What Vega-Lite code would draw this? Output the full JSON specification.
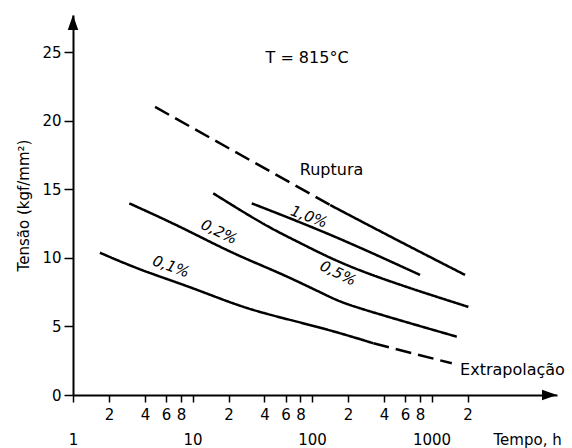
{
  "$schema": "https://vega.github.io/schema/vega-lite/v6.json",
  "width": 484,
  "height": 380,
  "autosize": {"type": "none"},
  "padding": {"left": 73, "top": 15, "right": 15, "bottom": 53},
  "background": "white",
  "config": {
    "view": {"stroke": null},
    "font": "DejaVu Sans",
    "axis": {
      "grid": false,
      "domainColor": "black",
      "domainWidth": 2,
      "tickColor": "black",
      "tickWidth": 1.5,
      "labelColor": "black",
      "titleColor": "black",
      "labelFont": "DejaVu Sans",
      "titleFont": "DejaVu Sans",
      "labelFontSize": 15,
      "titleFontSize": 15,
      "titleFontWeight": "normal"
    }
  },
  "layer": [
    {
      "data": {
        "values": [
          {"curva": "Ruptura", "trecho": "ruptura-a", "estilo": "tracejado", "tempo": 4.86, "tensao": 21.0},
          {"curva": "Ruptura", "trecho": "ruptura-a", "estilo": "tracejado", "tempo": 141.5, "tensao": 13.85},
          {"curva": "Ruptura", "trecho": "ruptura-b", "estilo": "contínuo", "tempo": 141.5, "tensao": 13.85},
          {"curva": "Ruptura", "trecho": "ruptura-b", "estilo": "contínuo", "tempo": 511, "tensao": 11.3},
          {"curva": "Ruptura", "trecho": "ruptura-b", "estilo": "contínuo", "tempo": 1906, "tensao": 8.75},
          {"curva": "1,0%", "trecho": "1,0%", "estilo": "contínuo", "tempo": 31.3, "tensao": 13.97},
          {"curva": "1,0%", "trecho": "1,0%", "estilo": "contínuo", "tempo": 150, "tensao": 11.66},
          {"curva": "1,0%", "trecho": "1,0%", "estilo": "contínuo", "tempo": 801, "tensao": 8.75},
          {"curva": "0,5%", "trecho": "0,5%", "estilo": "contínuo", "tempo": 14.9, "tensao": 14.7},
          {"curva": "0,5%", "trecho": "0,5%", "estilo": "contínuo", "tempo": 41.8, "tensao": 12.27},
          {"curva": "0,5%", "trecho": "0,5%", "estilo": "contínuo", "tempo": 79.4, "tensao": 11.1},
          {"curva": "0,5%", "trecho": "0,5%", "estilo": "contínuo", "tempo": 220, "tensao": 9.11},
          {"curva": "0,5%", "trecho": "0,5%", "estilo": "contínuo", "tempo": 2032, "tensao": 6.42},
          {"curva": "0,2%", "trecho": "0,2%", "estilo": "contínuo", "tempo": 2.96, "tensao": 13.97},
          {"curva": "0,2%", "trecho": "0,2%", "estilo": "contínuo", "tempo": 6.91, "tensao": 12.51},
          {"curva": "0,2%", "trecho": "0,2%", "estilo": "contínuo", "tempo": 11.6, "tensao": 11.52},
          {"curva": "0,2%", "trecho": "0,2%", "estilo": "contínuo", "tempo": 25, "tensao": 10.08},
          {"curva": "0,2%", "trecho": "0,2%", "estilo": "contínuo", "tempo": 54, "tensao": 8.9},
          {"curva": "0,2%", "trecho": "0,2%", "estilo": "contínuo", "tempo": 141.5, "tensao": 7.14},
          {"curva": "0,2%", "trecho": "0,2%", "estilo": "contínuo", "tempo": 195, "tensao": 6.56},
          {"curva": "0,2%", "trecho": "0,2%", "estilo": "contínuo", "tempo": 1625, "tensao": 4.25},
          {"curva": "0,1%", "trecho": "0,1%-a", "estilo": "contínuo", "tempo": 1.68, "tensao": 10.37},
          {"curva": "0,1%", "trecho": "0,1%-a", "estilo": "contínuo", "tempo": 3.64, "tensao": 9.11},
          {"curva": "0,1%", "trecho": "0,1%-a", "estilo": "contínuo", "tempo": 9.53, "tensao": 7.89},
          {"curva": "0,1%", "trecho": "0,1%-a", "estilo": "contínuo", "tempo": 25, "tensao": 6.44},
          {"curva": "0,1%", "trecho": "0,1%-a", "estilo": "contínuo", "tempo": 54, "tensao": 5.65},
          {"curva": "0,1%", "trecho": "0,1%-a", "estilo": "contínuo", "tempo": 141.5, "tensao": 4.74},
          {"curva": "0,1%", "trecho": "0,1%-a", "estilo": "contínuo", "tempo": 326, "tensao": 3.77},
          {"curva": "0,1%", "trecho": "0,1%-b", "estilo": "tracejado", "tempo": 326, "tensao": 3.77},
          {"curva": "0,1%", "trecho": "0,1%-b", "estilo": "tracejado", "tempo": 1476, "tensao": 2.31}
        ]
      },
      "mark": {"type": "line", "color": "black", "strokeWidth": 2.5, "strokeCap": "butt", "interpolate": "basis"},
      "encoding": {
        "x": {
          "field": "tempo",
          "type": "quantitative",
          "scale": {"type": "log", "domain": [1, 11200], "nice": false},
          "axis": {
            "title": "Tempo, h",
            "values": [1, 2, 4, 6, 8, 10, 20, 40, 60, 80, 100, 200, 400, 600, 800, 1000, 2000],
            "labelExpr": "indexof([1,10,100,1000], datum.value) >= 0 ? ['', format(datum.value, 'd')] : [slice(format(datum.value, 'd'), 0, 1)]",
            "tickSize": 7,
            "labelPadding": 5,
            "labelLineHeight": 25,
            "labelBaseline": "top",
            "labelOverlap": false,
            "labelFlush": false,
            "titleAlign": "left",
            "titleX": 420,
            "titleY": 44,
            "titleBaseline": "middle"
          }
        },
        "y": {
          "field": "tensao",
          "type": "quantitative",
          "scale": {"domain": [0, 27.7], "nice": false},
          "axis": {
            "title": "Tensão (kgf/mm²)",
            "values": [0, 5, 10, 15, 20, 25],
            "tickSize": 9,
            "labelPadding": 3,
            "titlePadding": 10
          }
        },
        "detail": {"field": "trecho"},
        "strokeDash": {
          "field": "estilo",
          "type": "nominal",
          "scale": {"domain": ["contínuo", "tracejado"], "range": [[1, 0], [16, 7]]},
          "legend": null
        }
      }
    },
    {
      "data": {"values": [{"seta": "y", "tempo": 1, "tensao": 27.7}, {"seta": "x", "tempo": 11200, "tensao": 0}]},
      "mark": {"type": "point", "filled": true, "color": "black", "opacity": 1, "size": 225, "strokeWidth": 0},
      "encoding": {
        "x": {"field": "tempo", "type": "quantitative"},
        "y": {"field": "tensao", "type": "quantitative"},
        "shape": {
          "field": "seta",
          "type": "nominal",
          "scale": {"domain": ["y", "x"], "range": ["M0,0L-0.7,2L0.7,2Z", "M0,0L-2,-0.7L-2,0.7Z"]},
          "legend": null
        }
      }
    },
    {
      "data": {"values": [{"texto": "T = 815°C", "tempo": 90.8, "tensao": 24.6}, {"texto": "Ruptura", "tempo": 145.6, "tensao": 16.4}]},
      "mark": {"type": "text", "fontSize": 16, "align": "center", "baseline": "middle", "color": "black"},
      "encoding": {
        "x": {"field": "tempo", "type": "quantitative"},
        "y": {"field": "tensao", "type": "quantitative"},
        "text": {"field": "texto"}
      }
    },
    {
      "data": {"values": [{"texto": "Extrapolação", "tempo": 1731, "tensao": 1.82}]},
      "mark": {"type": "text", "fontSize": 16, "align": "left", "baseline": "middle", "color": "black"},
      "encoding": {
        "x": {"field": "tempo", "type": "quantitative"},
        "y": {"field": "tensao", "type": "quantitative"},
        "text": {"field": "texto"}
      }
    },
    {
      "data": {"values": [{"texto": "0,1%", "tempo": 6.61, "tensao": 9.37}]},
      "mark": {"type": "text", "fontSize": 15, "fontStyle": "italic", "angle": 20, "align": "center", "baseline": "middle", "color": "black"},
      "encoding": {
        "x": {"field": "tempo", "type": "quantitative"},
        "y": {"field": "tensao", "type": "quantitative"},
        "text": {"field": "texto"}
      }
    },
    {
      "data": {"values": [{"texto": "0,2%", "tempo": 16.7, "tensao": 11.9}]},
      "mark": {"type": "text", "fontSize": 15, "fontStyle": "italic", "angle": 26, "align": "center", "baseline": "middle", "color": "black"},
      "encoding": {
        "x": {"field": "tempo", "type": "quantitative"},
        "y": {"field": "tensao", "type": "quantitative"},
        "text": {"field": "texto"}
      }
    },
    {
      "data": {"values": [{"texto": "1,0%", "tempo": 94.4, "tensao": 13.0}]},
      "mark": {"type": "text", "fontSize": 15, "fontStyle": "italic", "angle": 20, "align": "center", "baseline": "middle", "color": "black"},
      "encoding": {
        "x": {"field": "tempo", "type": "quantitative"},
        "y": {"field": "tensao", "type": "quantitative"},
        "text": {"field": "texto"}
      }
    },
    {
      "data": {"values": [{"texto": "0,5%", "tempo": 165, "tensao": 8.89}]},
      "mark": {"type": "text", "fontSize": 15, "fontStyle": "italic", "angle": 26, "align": "center", "baseline": "middle", "color": "black"},
      "encoding": {
        "x": {"field": "tempo", "type": "quantitative"},
        "y": {"field": "tensao", "type": "quantitative"},
        "text": {"field": "texto"}
      }
    }
  ]
}
